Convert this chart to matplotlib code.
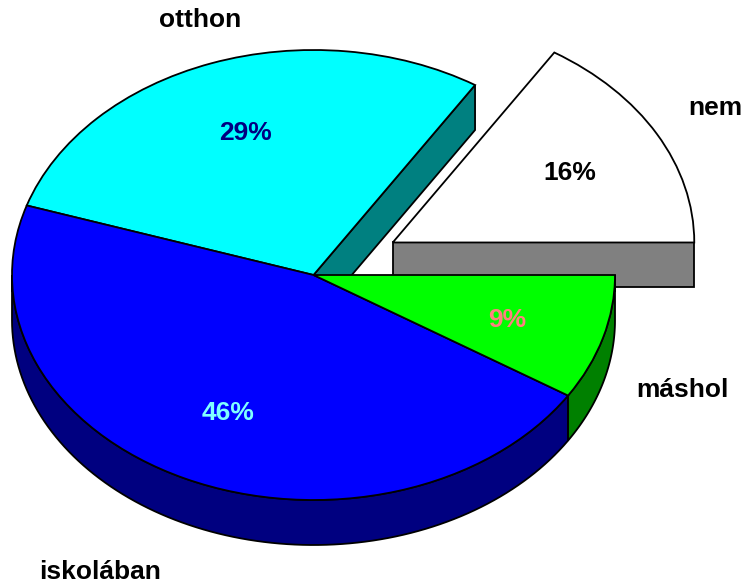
import numpy as np
import matplotlib
matplotlib.use("Agg")
import matplotlib.pyplot as plt
from matplotlib.patches import Wedge, Polygon

##############################################################################
# Data
##############################################################################

labels = ["nem", "otthon", "iskolában", "máshol"]
values = [16, 29, 46, 9]
explode = [0.3, 0, 0, 0]

top_colors = ["#FFFFFF", "#00FFFF", "#0000FF", "#00FF00"]
side_colors = ["#808080", "#008080", "#000080", "#008000"]
pct_colors = ["#000000", "#000080", "#80FFFF", "#FF8080"]

##############################################################################
# Layout (pixels)
##############################################################################

W, H = 745, 586
cx, cy = 313.5, 275.0     # pie centre
a, b = 301.5, 225.0       # ellipse radii
depth = 45.0 / b          # thickness in data units
LW = 1.3

def px(x, y):
    return ((x - cx) / a, (cy - y) / b)

label_pos = [(715, 108), (200, 20), (100, 572), (682, 390)]
pct_pos = [(570, 173), (245, 133), (228, 413), (507, 320)]

fig = plt.figure(figsize=(W / 100, H / 100), dpi=100)
ax = fig.add_axes([0, 0, 1, 1])
ax.set_xlim(-cx / a, (W - cx) / a)
ax.set_ylim((cy - H) / b, cy / b)
ax.axis("off")

total = float(sum(values))
angles = np.cumsum([0] + [360.0 * v / total for v in values])

slices = []
for i, v in enumerate(values):
    t1, t2 = angles[i], angles[i + 1]
    mid = np.radians((t1 + t2) / 2)
    c = np.array([explode[i] * np.cos(mid), explode[i] * np.sin(mid)])
    slices.append((t1, t2, c))

def draw_slice(i, ec="black", lw=LW):
    t1, t2, c = slices[i]
    down = np.array([0, -depth])
    # visible radial face at the start edge
    if np.cos(np.radians(t1)) > 0 and (explode[i] > 0 or explode[i - 1] > 0):
        r = c + np.array([np.cos(np.radians(t1)), np.sin(np.radians(t1))])
        ax.add_patch(Polygon([c, r, r + down, c + down], closed=True,
                             fc=side_colors[i], ec=ec, lw=lw))
    # outer wall on the front half
    lo, hi = max(t1, 180), min(t2, 360)
    if hi > lo:
        t = np.radians(np.linspace(lo, hi, 100))
        top = np.column_stack([np.cos(t), np.sin(t)]) + c
        pts = np.vstack([top, (top + down)[::-1]])
        ax.add_patch(Polygon(pts, closed=True, fc=side_colors[i], ec=ec, lw=lw))

def draw_top(i, ec="black", lw=LW):
    t1, t2, c = slices[i]
    ax.add_patch(Wedge(tuple(c), 1.0, t1, t2, fc=top_colors[i], ec=ec, lw=lw))

# exploded slices behind first, then the rest
order_back = [i for i in range(len(values)) if explode[i] > 0]
order_main = [i for i in range(len(values)) if explode[i] == 0]
for i in order_back:
    draw_slice(i)
    draw_top(i)
for i in order_main:
    draw_slice(i)
for i in order_main:
    draw_top(i)

font = dict(family=["Liberation Sans", "DejaVu Sans"], fontweight="bold",
            fontsize=19, ha="center", va="center")
for i in range(len(values)):
    ax.text(*px(*label_pos[i]), labels[i], color="black", **font)
    ax.text(*px(*pct_pos[i]), f"{values[i]}%", color=pct_colors[i], **font)

fig.savefig("out.png", dpi=100, facecolor="white")
